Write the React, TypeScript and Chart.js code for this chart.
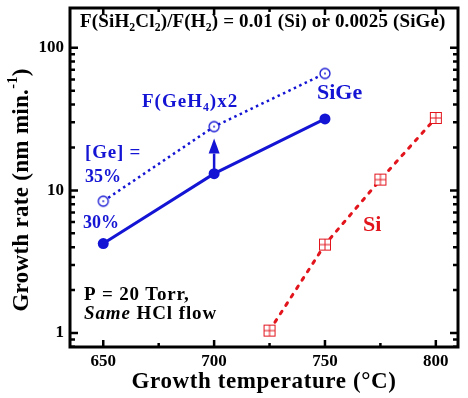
import React, { useEffect, useRef } from 'react';
import { Chart, registerables } from 'chart.js';
Chart.register(...registerables);

// ---- data ----
const tempsGe30 = [650, 700, 750];
const rateGe30 = [4.24, 13.1, 31.7];
const tempsGe35 = [650, 700, 750];
const rateGe35 = [8.4, 28, 66];
const tempsSi = [725, 750, 775, 800];
const rateSi = [1.04, 4.17, 11.9, 32.2];
const xTickValues = [650, 700, 750, 800];
const xMinorValues = [675, 725, 775];
const yTickValues = [1, 10, 100];
const yMinorValues = [0.8, 0.9, 2, 3, 4, 5, 6, 7, 8, 9, 20, 30, 40, 50, 60, 70, 80, 90];
const xRange = [635, 810];
const yRange = [0.798, 190];

const BLUE = '#1414d4';
const RED = '#e2141c';
const FONT = '"Liberation Serif", "Times New Roman", serif';

function makeOpenCircle() {
  const c = document.createElement('canvas');
  c.width = 14; c.height = 14;
  const g = c.getContext('2d')!;
  g.beginPath(); g.arc(7, 7, 5, 0, Math.PI * 2);
  g.fillStyle = '#fff'; g.fill();
  g.lineWidth = 1.3; g.strokeStyle = BLUE; g.stroke();
  g.beginPath(); g.arc(7, 7, 0.9, 0, Math.PI * 2);
  g.fillStyle = BLUE; g.fill();
  return c;
}
function makeSquareCross() {
  const c = document.createElement('canvas');
  c.width = 14; c.height = 14;
  const g = c.getContext('2d')!;
  g.fillStyle = '#fff'; g.fillRect(1.5, 1.5, 11, 11);
  g.strokeStyle = RED; g.lineWidth = 1;
  g.strokeRect(1.5, 1.5, 11, 11);
  g.beginPath();
  g.moveTo(7, 1.5); g.lineTo(7, 12.5);
  g.moveTo(1.5, 7); g.lineTo(12.5, 7);
  g.stroke();
  return c;
}

type Part = { t: string; sub?: boolean; sup?: boolean; italic?: boolean };
function setFont(ctx: any, p: Part, size: number, weight: string, ls: number) {
  const fs = p.sub || p.sup ? size * 0.62 : size;
  ctx.font = `${p.italic ? 'italic ' : ''}${weight} ${fs}px ${FONT}`;
  ctx.letterSpacing = `${ls}px`;
}
function measureRich(ctx: any, parts: Part[], size: number, weight: string, ls: number) {
  let w = 0;
  for (const p of parts) { setFont(ctx, p, size, weight, ls); w += ctx.measureText(p.t).width; }
  return w;
}
function drawRich(ctx: any, x: number, y: number, parts: Part[], size: number, color: string, ls = 0, weight = 'bold') {
  let cx = x;
  ctx.fillStyle = color;
  ctx.textBaseline = 'middle';
  ctx.textAlign = 'left';
  for (const p of parts) {
    setFont(ctx, p, size, weight, ls);
    const dy = p.sub ? size * 0.32 : p.sup ? -size * 0.38 : 0;
    ctx.fillText(p.t, cx, y + dy);
    cx += ctx.measureText(p.t).width;
  }
  ctx.letterSpacing = '0px';
}

const framePlugin = {
  id: 'framePlugin',
  afterDraw(chart: any) {
    const { ctx, chartArea: a, scales } = chart;
    const xs = scales.x, ys = scales.y;
    ctx.save();
    ctx.strokeStyle = '#000';
    ctx.lineWidth = 2.5;
    ctx.beginPath();
    const tickX = (v: number, len: number) => {
      const p = xs.getPixelForValue(v);
      ctx.moveTo(p, a.bottom); ctx.lineTo(p, a.bottom - len);
      ctx.moveTo(p, a.top); ctx.lineTo(p, a.top + len);
    };
    const tickY = (v: number, len: number) => {
      const p = ys.getPixelForValue(v);
      if (p < a.top || p > a.bottom) return;
      ctx.moveTo(a.left, p); ctx.lineTo(a.left + len, p);
      ctx.moveTo(a.right, p); ctx.lineTo(a.right - len, p);
    };
    xTickValues.forEach(v => tickX(v, 7));
    xMinorValues.forEach(v => tickX(v, 4));
    yTickValues.forEach(v => tickY(v, 8));
    yMinorValues.forEach(v => tickY(v, 5));
    ctx.stroke();
    ctx.lineWidth = 3;
    ctx.strokeRect(a.left, a.top, a.right - a.left, a.bottom - a.top);

    // arrow
    const ax = xs.getPixelForValue(700);
    const yFrom = ys.getPixelForValue(rateGe30[1]) - 3;
    const tip = ys.getPixelForValue(rateGe35[1]) + 12;
    const base = tip + 15;
    ctx.strokeStyle = BLUE; ctx.fillStyle = BLUE; ctx.lineWidth = 2.5;
    ctx.beginPath(); ctx.moveTo(ax, yFrom); ctx.lineTo(ax, base); ctx.stroke();
    ctx.beginPath(); ctx.moveTo(ax, tip); ctx.lineTo(ax - 5.5, base); ctx.lineTo(ax + 5.5, base); ctx.closePath(); ctx.fill();

    // annotation texts
    drawRich(ctx, 80, 22, [
      { t: 'F(SiH' }, { t: '2', sub: true }, { t: 'Cl' }, { t: '2', sub: true },
      { t: ')/F(H' }, { t: '2', sub: true }, { t: ') = 0.01 (Si) or 0.0025 (SiGe)' },
    ], 19, '#000', 0.15);
    drawRich(ctx, 142, 102, [{ t: 'F(GeH' }, { t: '4', sub: true }, { t: ')x2' }], 19, BLUE, 1);
    drawRich(ctx, 85, 153, [{ t: '[Ge] =' }], 19, BLUE, 0.8);
    drawRich(ctx, 85, 177, [{ t: '35%' }], 18, BLUE, 0);
    drawRich(ctx, 83, 223, [{ t: '30%' }], 18, BLUE, 0);
    drawRich(ctx, 317, 93, [{ t: 'SiGe' }], 22, BLUE, 0);
    drawRich(ctx, 363, 225, [{ t: 'Si' }], 22, RED, 0);
    drawRich(ctx, 84, 295, [{ t: 'P = 20 Torr,' }], 19, '#000', 0.8);
    drawRich(ctx, 84, 314, [{ t: 'Same', italic: true }, { t: ' HCl flow' }], 19, '#000', 0.9);

    // axis titles
    const xt: Part[] = [{ t: 'Growth temperature (°C)' }];
    const xw = measureRich(ctx, xt, 23, 'bold', 0.6);
    drawRich(ctx, (a.left + a.right) / 2 - xw / 2, 382, xt, 23, '#000', 0.6);
    const yt: Part[] = [{ t: 'Growth rate (nm min.' }, { t: '-1', sup: true }, { t: ')' }];
    const yw = measureRich(ctx, yt, 23, 'bold', 0.3);
    ctx.save();
    ctx.translate(22, 190);
    ctx.rotate(-Math.PI / 2);
    drawRich(ctx, -yw / 2, 0, yt, 23, '#000', 0.3);
    ctx.restore();
    ctx.restore();
  },
};

export default function App() {
  const ref = useRef<HTMLCanvasElement>(null);
  useEffect(() => {
    const chart = new Chart(ref.current!, {
      type: 'line',
      data: {
        datasets: [
          {
            label: '30%',
            data: tempsGe30.map((t, i) => ({ x: t, y: rateGe30[i] })),
            borderColor: BLUE,
            backgroundColor: BLUE,
            borderWidth: 3,
            pointStyle: 'circle',
            pointRadius: 5.5,
            pointBorderWidth: 0,
          },
          {
            label: '35%',
            data: tempsGe35.map((t, i) => ({ x: t, y: rateGe35[i] })),
            borderColor: BLUE,
            borderWidth: 2.5,
            borderDash: [2.5, 3.5],
            pointStyle: makeOpenCircle() as any,
            pointRadius: 5,
          },
          {
            label: 'Si',
            data: tempsSi.map((t, i) => ({ x: t, y: rateSi[i] })),
            borderColor: RED,
            borderWidth: 3,
            borderDash: [3, 7],
            borderCapStyle: 'round',
            pointStyle: makeSquareCross() as any,
            pointRadius: 5,
          },
        ],
      },
      options: {
        responsive: false,
        animation: false,
        devicePixelRatio: 1,
        layout: { padding: { top: 7, right: 10, left: 0, bottom: 0 } },
        plugins: { legend: { display: false }, tooltip: { enabled: false } },
        scales: {
          x: {
            type: 'linear',
            min: xRange[0],
            max: xRange[1],
            grid: { display: false, drawTicks: false },
            border: { display: false },
            afterBuildTicks: (s: any) => { s.ticks = xTickValues.map(v => ({ value: v })); },
            afterFit: (s: any) => { s.height = 51; s.paddingLeft = 0; s.paddingRight = 0; },
            ticks: {
              color: '#000',
              padding: 4,
              font: { family: FONT, size: 17, weight: 'bold' },
              callback: (v: any) => String(v),
            },
            title: { display: false },
          },
          y: {
            type: 'logarithmic',
            min: yRange[0],
            max: yRange[1],
            grid: { display: false, drawTicks: false },
            border: { display: false },
            afterBuildTicks: (s: any) => { s.ticks = yTickValues.map(v => ({ value: v })); },
            afterFit: (s: any) => { s.width = 70; s.paddingTop = 0; s.paddingBottom = 0; },
            ticks: {
              color: '#000',
              padding: 6,
              font: { family: FONT, size: 17, weight: 'bold' },
              callback: (v: any) => String(v),
            },
            title: { display: false },
          },
        },
      },
      plugins: [framePlugin],
    });
    return () => chart.destroy();
  }, []);
  return (
    <div style={{ position: 'fixed', left: 0, top: 0, width: 468, height: 398, background: '#fff' }}>
      <canvas ref={ref} width={468} height={398} style={{ width: 468, height: 398, display: 'block' }} />
    </div>
  );
}
